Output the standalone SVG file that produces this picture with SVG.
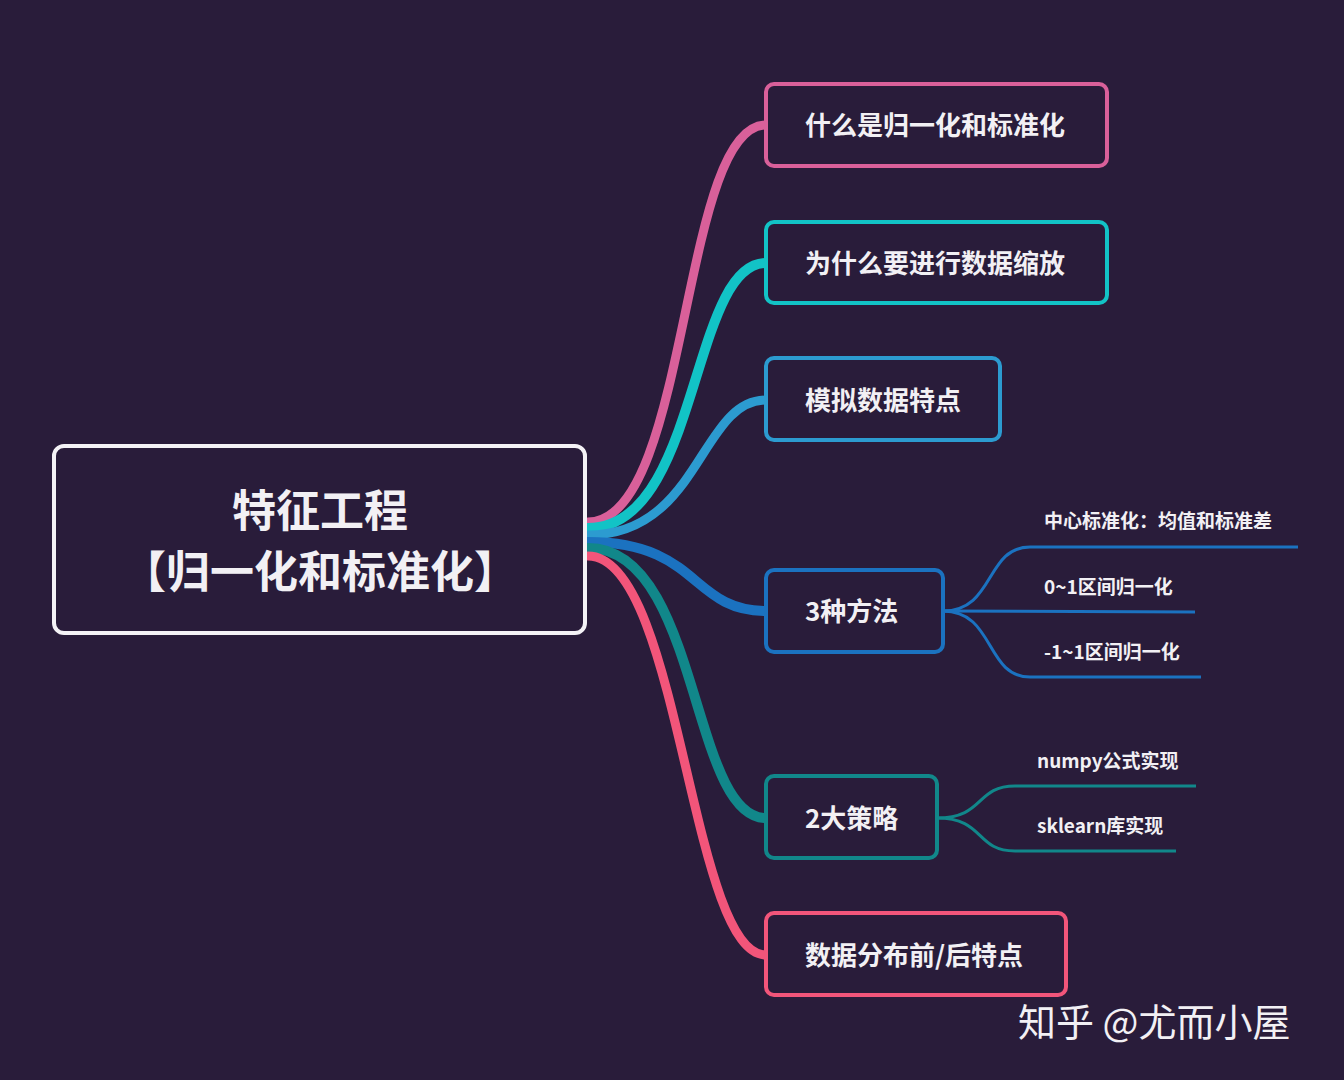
<svg xmlns="http://www.w3.org/2000/svg" width="1344" height="1080" viewBox="0 0 1344 1080">
<style>
text{font-family:"Noto Sans CJK SC","Noto Sans",sans-serif;fill:#f2f0f4;font-weight:bold}
.n{font-size:26px}
.s{font-size:19px}
.box{fill:#291c3a;stroke-width:4}
.c{fill:none;stroke-linecap:round}
</style>
<rect width="1344" height="1080" fill="#291c3a"/>
<g id="connectors">
<path class="c" d="M588,522 C690,522 680,125 766,125" stroke="#d9609a" stroke-width="9"/>
<path class="c" d="M588,528 C700,528 690,263 766,263" stroke="#12c3c6" stroke-width="10"/>
<path class="c" d="M588,535 C700,535 700,400 766,400" stroke="#2c9bd0" stroke-width="9"/>
<path class="c" d="M588,542 C700,542 690,611 766,611" stroke="#1b72c0" stroke-width="10"/>
<path class="c" d="M588,548 C700,548 690,818 766,818" stroke="#11878a" stroke-width="10"/>
<path class="c" d="M588,556 C680,556 690,955 766,955" stroke="#f2557a" stroke-width="9"/>
<g stroke="#1b72c0" stroke-width="3" fill="none">
<path d="M943,611 C995,611 985,547 1030,547 L1298,547"/>
<path d="M943,611 L1195,612"/>
<path d="M943,611 C995,611 985,677 1030,677 L1201,677"/>
</g>
<g stroke="#11878a" stroke-width="3" fill="none">
<path d="M937,818 C985,818 975,786 1015,786 L1196,786"/>
<path d="M937,818 C985,818 975,851 1015,851 L1176,851"/>
</g>
</g>
<g id="root"><rect x="54" y="446" width="531" height="187" rx="10" class="box" stroke="#f4f2f6"/>
<text x="320" y="527" font-size="44" text-anchor="middle">特征工程</text>
<text x="320" y="588" font-size="44" text-anchor="middle">【归一化和标准化】</text></g>
<g id="n1"><rect x="766" y="84" width="341" height="82" rx="8" class="box" stroke="#d9609a"/><text class="n" x="805" y="135">什么是归一化和标准化</text></g>
<g id="n2"><rect x="766" y="222" width="341" height="81" rx="8" class="box" stroke="#12c3c6"/><text class="n" x="805" y="273">为什么要进行数据缩放</text></g>
<g id="n3"><rect x="766" y="358" width="234" height="82" rx="8" class="box" stroke="#2c9bd0"/><text class="n" x="805" y="410">模拟数据特点</text></g>
<g id="n4"><rect x="766" y="570" width="177" height="82" rx="8" class="box" stroke="#1b72c0"/><text class="n" x="805" y="621">3种方法</text></g>
<g id="n5"><rect x="766" y="776" width="171" height="82" rx="8" class="box" stroke="#11878a"/><text class="n" x="805" y="828">2大策略</text></g>
<g id="n6"><rect x="766" y="913" width="300" height="82" rx="8" class="box" stroke="#f2557a"/><text class="n" x="805" y="965">数据分布前/后特点</text></g>
<g id="s1"><text class="s" x="1044" y="528">中心标准化：均值和标准差</text></g>
<g id="s2"><text class="s" x="1044" y="594">0~1区间归一化</text></g>
<g id="s3"><text class="s" x="1044" y="659">-1~1区间归一化</text></g>
<g id="s4"><text class="s" x="1037" y="768">numpy公式实现</text></g>
<g id="s5"><text class="s" x="1037" y="833">sklearn库实现</text></g>
<text x="1018" y="1036" font-size="38" style="font-weight:normal">知乎 @尤而小屋</text>
</svg>
